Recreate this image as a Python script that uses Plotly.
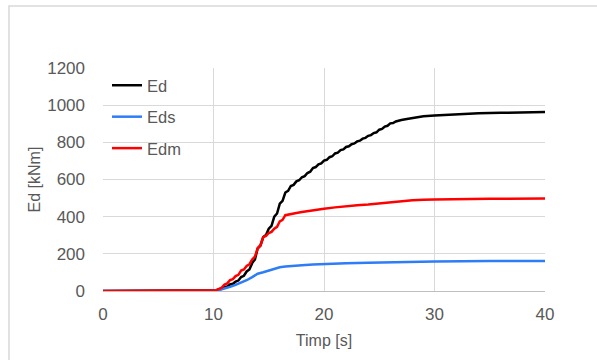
import plotly.graph_objects as go

# Time axis [s] and energies [kNm]
t_ed = [0, 5, 9.5, 10, 10.25, 10.5, 10.75, 11, 11.25, 11.5, 11.75, 12, 12.25, 12.5, 12.75, 13, 13.25, 13.5, 13.75,
        14, 14.25, 14.5, 14.75, 15, 15.25, 15.5, 15.75, 16, 16.25, 16.5, 16.75, 17, 17.25, 17.5, 17.75,
        18, 18.25, 18.5, 18.75, 19, 19.25, 19.5, 19.75, 20, 20.25, 20.5, 20.75, 21, 21.25, 21.5, 21.75,
        22, 22.25, 22.5, 22.75, 23, 23.25, 23.5, 23.75, 24, 24.25, 24.5, 24.75, 25, 25.25, 25.5, 25.75,
        26, 26.25, 26.5, 26.75, 27, 27.5, 28, 28.5, 29, 30, 32, 34, 36, 38, 40]
ed = [0, 0, 0, 2, 4, 10, 12, 20, 24, 35, 39, 50, 56, 75, 82, 105, 116, 150, 170,
      230, 245, 290, 301, 335, 351, 400, 417, 470, 485, 530, 539, 565, 571, 590, 596,
      612, 618, 635, 642, 662, 667, 682, 687, 702, 706, 720, 725, 740, 744, 758, 762,
      775, 779, 790, 794, 805, 809, 820, 824, 835, 839, 850, 854, 868, 872, 885, 889,
      902, 904, 912, 914, 920, 926, 932, 936, 940, 945, 951, 956, 959, 961, 963]

t_eds = [0, 5, 9.5, 10, 10.5, 11, 11.5, 12, 12.5, 13, 13.5, 14, 14.5, 15, 15.5, 16, 16.5, 17, 18, 19, 20,
         22, 24, 26, 28, 30, 35, 40]
eds = [0, 0, 0, 1, 5, 12, 22, 33, 45, 58, 75, 93, 101, 110, 120, 128, 132, 135, 139, 142, 145,
       149, 152, 155, 157, 159, 161, 162]

t_edm = [0, 5, 9.5, 10, 10.25, 10.5, 10.75, 11, 11.25, 11.5, 11.75, 12, 12.25, 12.5, 12.75, 13, 13.25, 13.5,
         13.75, 14, 14.25, 14.5, 14.75, 15, 15.25, 15.5, 15.75, 16, 16.25, 16.5, 17, 17.5, 18, 19, 20, 21,
         22, 23, 24, 25, 26, 27, 28, 29, 30, 35, 40]
edm = [0, 0, 0, 2, 4, 12, 18, 35, 41, 59, 64, 80, 87, 110, 116, 135, 144, 170,
       185, 230, 245, 290, 296, 312, 318, 335, 345, 375, 383, 408, 416, 420, 425, 435, 443, 450,
       457, 462, 466, 472, 478, 483, 488, 491, 493, 496, 498]

x_ticks = [0, 10, 20, 30, 40]
y_ticks = [0, 200, 400, 600, 800, 1000, 1200]

FONT = "Liberation Sans, Arial, sans-serif"
GRAY = "#595959"
FS = 16
FS_TICK = 17

fig = go.Figure()
fig.add_trace(go.Scatter(x=t_ed, y=ed, mode="lines", name="Ed", legendgroup="a",
                         line=dict(color="#000000", width=2.5)))
fig.add_trace(go.Scatter(x=t_eds, y=eds, mode="lines", name="Eds", legendgroup="b",
                         line=dict(color="#2E7CF6", width=2.5)))
fig.add_trace(go.Scatter(x=t_edm, y=edm, mode="lines", name="Edm", legendgroup="c",
                         line=dict(color="#FF0000", width=2.5)))

fig.update_layout(
    width=597, height=360,
    margin=dict(l=103, r=52, t=68, b=69),
    paper_bgcolor="white", plot_bgcolor="white",
    font=dict(family=FONT, size=FS, color=GRAY),
    showlegend=True,
    legend=dict(x=0.009, y=1.0, xanchor="left", yanchor="top", bgcolor="rgba(0,0,0,0)",
                font=dict(family=FONT, size=16.5, color=GRAY), tracegroupgap=7,
                itemwidth=30),
    xaxis=dict(range=[0, 40], tickvals=x_ticks, showgrid=True, gridcolor="#d9d9d9", gridwidth=1,
               showline=True, linecolor="#bfbfbf", linewidth=1, zeroline=False, ticks="",
               automargin=False,
               title=dict(text="Timp [s]", font=dict(family=FONT, size=FS, color=GRAY), standoff=11),
               tickfont=dict(family=FONT, size=FS_TICK, color=GRAY), ticklabelstandoff=8, mirror=False),
    yaxis=dict(range=[0, 1200], tickvals=y_ticks, showgrid=True, gridcolor="#d9d9d9", gridwidth=1,
               showline=False, zeroline=False, ticks="", automargin=False,
               title=dict(text="Ed [kNm]", font=dict(family=FONT, size=FS, color=GRAY), standoff=2),
               tickfont=dict(family=FONT, size=FS_TICK, color=GRAY), ticklabelstandoff=17),
    shapes=[dict(type="rect", xref="paper", yref="paper", x0=-0.2127, x1=1.2, y0=-0.5, y1=1.278,
                 line=dict(color="#d9d9d9", width=1.5), fillcolor="rgba(0,0,0,0)", layer="below")],
)

fig.write_html("out.html", config={"displayModeBar": False},
               post_script="document.body.style.margin='0';")
